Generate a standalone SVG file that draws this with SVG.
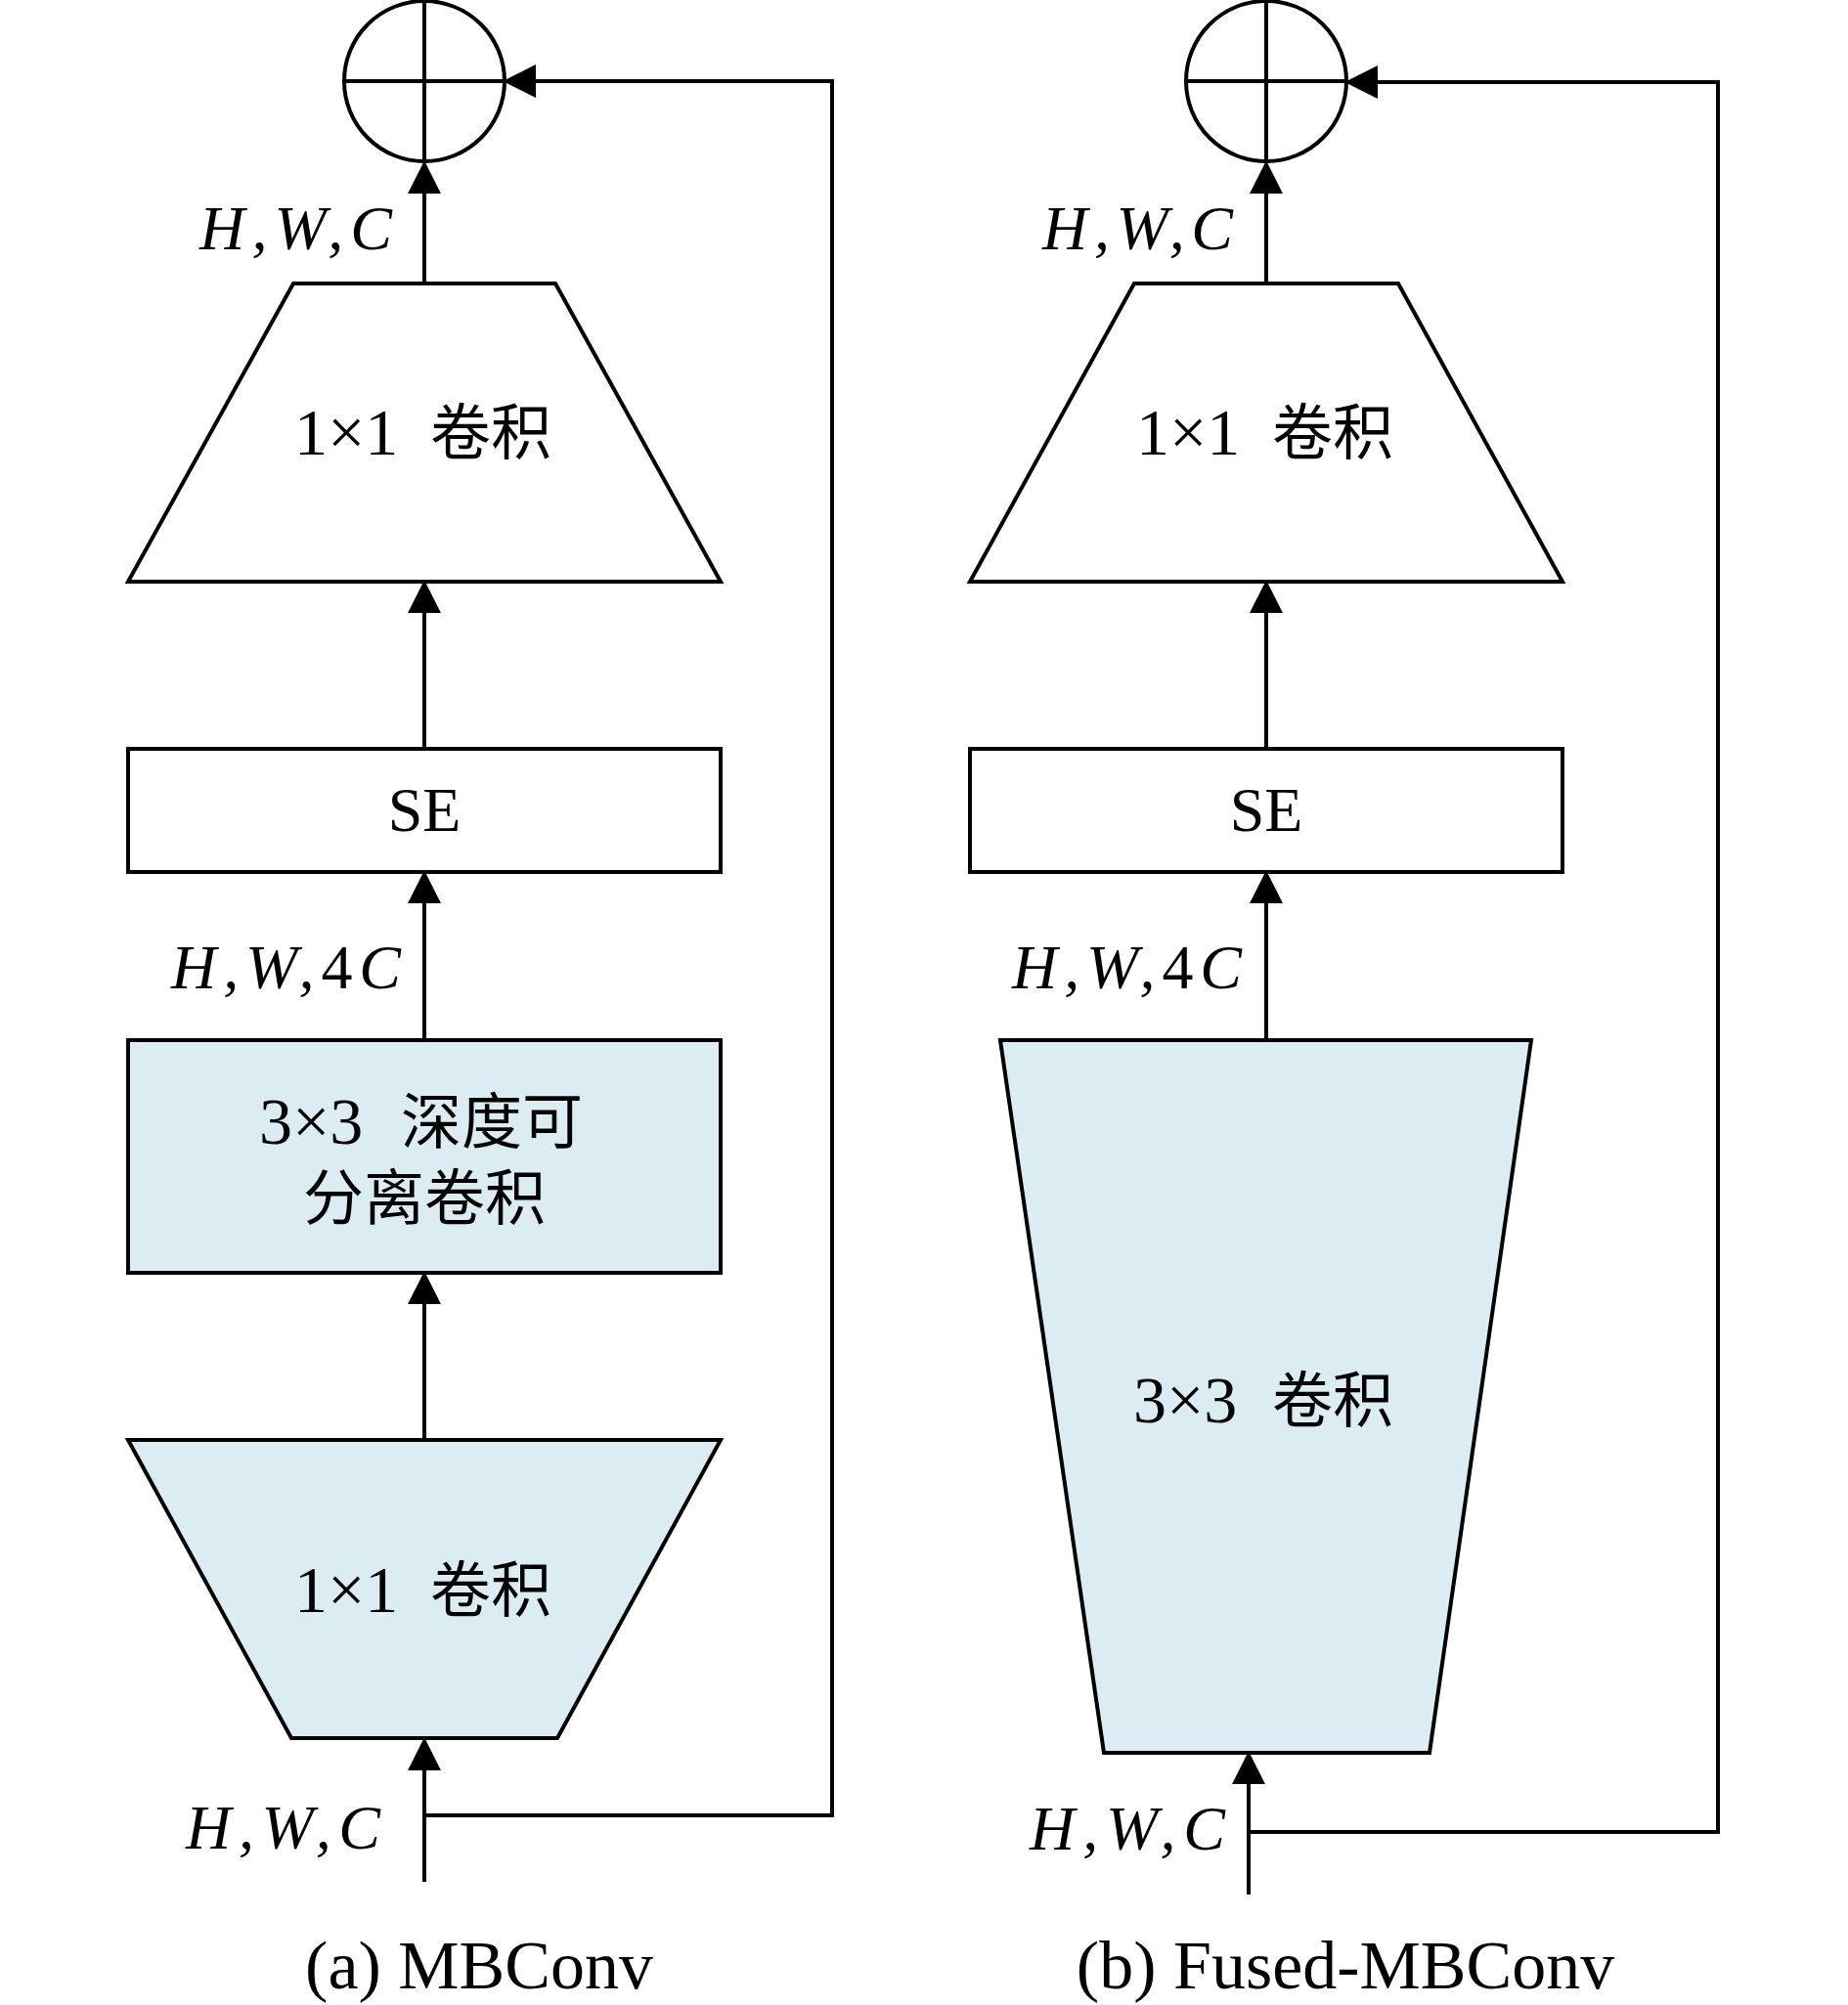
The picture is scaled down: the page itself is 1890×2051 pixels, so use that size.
<svg xmlns="http://www.w3.org/2000/svg" width="1890" height="2051" viewBox="0 0 1890 2051">
<style>
.shape{stroke:#000;stroke-width:4;stroke-linejoin:miter}
.w{fill:#fff}
.b{fill:#DBEDF3}
.conn{fill:none;stroke:#000;stroke-width:4}
.t{font-family:"Liberation Serif","Noto Sans CJK SC",serif;font-size:62px;fill:#000}
.n{font-size:68px}
.m{font-family:"Liberation Serif",serif;font-style:italic;font-size:64px;fill:#000}
.cap{font-family:"Liberation Serif",serif;font-size:70px;fill:#000}
</style>
<defs>
<marker id="arr" markerUnits="userSpaceOnUse" markerWidth="34" markerHeight="34" viewBox="0 0 32 32" refX="2" refY="16" orient="auto">
<path d="M0,0 L32,16 L0,32 z" fill="#000"/>
</marker>
</defs>
<rect width="1890" height="2051" fill="#fff"/>

<g id="a-add">
<circle class="shape w" cx="434" cy="83" r="82"/>
<line class="conn" x1="352" y1="83" x2="516" y2="83"/>
<line class="conn" x1="434" y1="1" x2="434" y2="165"/>
</g>
<g id="a-conv1x1-top">
<polygon class="shape w" points="300,290 568,290 737,595 131,595"/>
<text class="t" y="465"><tspan class="n" x="301">1×1</tspan><tspan x="440">卷积</tspan></text>
</g>
<g id="a-se">
<rect class="shape w" x="131" y="766" width="606" height="126"/>
<text class="t" x="434" y="850" text-anchor="middle" style="font-size:64px">SE</text>
</g>
<g id="a-dwconv">
<rect class="shape b" x="131" y="1064" width="606" height="238"/>
<text class="t" y="1170"><tspan class="n" x="265">3×3</tspan><tspan x="410">深度可</tspan></text>
<text class="t" x="434" y="1248" text-anchor="middle">分离卷积</text>
</g>
<g id="a-conv1x1-bottom">
<polygon class="shape b" points="131,1473 737,1473 570,1778 298,1778"/>
<text class="t" y="1649"><tspan class="n" x="301">1×1</tspan><tspan x="440">卷积</tspan></text>
</g>

<g id="b-add">
<circle class="shape w" cx="1295" cy="83" r="82"/>
<line class="conn" x1="1213" y1="83" x2="1377" y2="83"/>
<line class="conn" x1="1295" y1="1" x2="1295" y2="165"/>
</g>
<g id="b-conv1x1-top">
<polygon class="shape w" points="1160,290 1430,290 1598,595 992,595"/>
<text class="t" y="465"><tspan class="n" x="1162">1×1</tspan><tspan x="1301">卷积</tspan></text>
</g>
<g id="b-se">
<rect class="shape w" x="992" y="766" width="606" height="126"/>
<text class="t" x="1295" y="850" text-anchor="middle" style="font-size:64px">SE</text>
</g>
<g id="b-conv3x3">
<polygon class="shape b" points="1023,1064 1566,1064 1462,1793 1129,1793"/>
<text class="t" y="1455"><tspan class="n" x="1159">3×3</tspan><tspan x="1301">卷积</tspan></text>
</g>

<g id="connectors">
<path class="conn" d="M434,1925 V1809" marker-end="url(#arr)"/>
<path class="conn" d="M434,1857 H851 V83 H546" marker-end="url(#arr)"/>
<path class="conn" d="M434,1473 V1332" marker-end="url(#arr)"/>
<path class="conn" d="M434,1064 V922" marker-end="url(#arr)"/>
<path class="conn" d="M434,766 V625" marker-end="url(#arr)"/>
<path class="conn" d="M434,290 V196" marker-end="url(#arr)"/>

<path class="conn" d="M1277,1938 V1823" marker-end="url(#arr)"/>
<path class="conn" d="M1277,1874 H1757 V84 H1407" marker-end="url(#arr)"/>
<path class="conn" d="M1295,1064 V922" marker-end="url(#arr)"/>
<path class="conn" d="M1295,766 V625" marker-end="url(#arr)"/>
<path class="conn" d="M1295,290 V196" marker-end="url(#arr)"/>
</g>

<g id="labels">
<text class="m" x="204" y="255" textLength="197">H,W,C</text>
<text class="m" x="175" y="1011" textLength="235">H,W,<tspan font-style="normal">4</tspan>C</text>
<text class="m" x="190" y="1891" textLength="199">H,W,C</text>
<text class="m" x="1066" y="255" textLength="195">H,W,C</text>
<text class="m" x="1035" y="1011" textLength="235">H,W,<tspan font-style="normal">4</tspan>C</text>
<text class="m" x="1053" y="1892" textLength="200">H,W,C</text>
<text class="cap" x="490" y="2034" text-anchor="middle">(a) MBConv</text>
<text class="cap" x="1376" y="2034" text-anchor="middle">(b) Fused-MBConv</text>
</g>
</svg>
